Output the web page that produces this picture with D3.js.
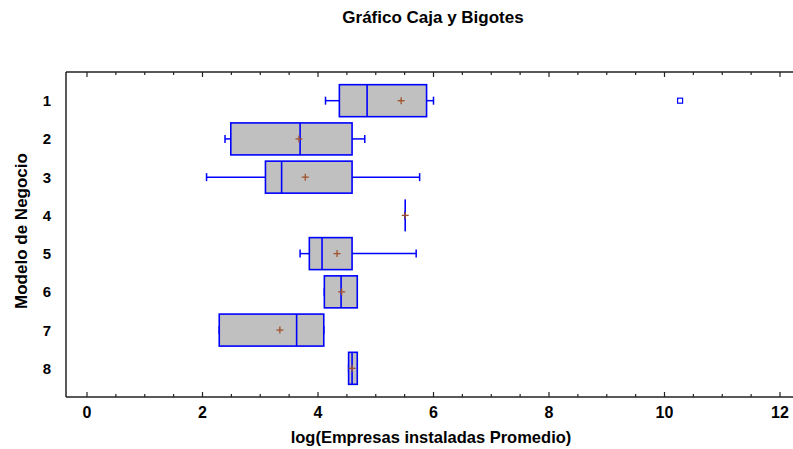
<!DOCTYPE html>
<html><head><meta charset="utf-8">
<script src="https://cdn.jsdelivr.net/npm/d3@7"></script>
<style>body{margin:0;background:#fff}svg{display:block;font-family:"Liberation Sans",Arial,sans-serif}</style>
</head><body><svg id="c" width="793" height="449"></svg>
<script>
const categories = ["1","2","3","4","5","6","7","8"];
const whiskerLow  = [4.13, 2.39, 2.07, 5.51, 3.69, 4.11, 2.29, 4.53];
const q1          = [4.37, 2.49, 3.09, 5.51, 3.85, 4.11, 2.29, 4.53];
const median      = [4.85, 3.69, 3.37, 5.51, 4.07, 4.40, 3.63, 4.59];
const q3          = [5.88, 4.59, 4.59, 5.51, 4.59, 4.68, 4.10, 4.68];
const whiskerHigh = [6.00, 4.81, 5.76, 5.51, 5.70, 4.68, 4.10, 4.68];
const mean        = [5.44, 3.67, 3.78, 5.51, 4.33, 4.41, 3.34, 4.59];
const outliers    = [{cat:"1", value:10.27}];
const xTicks = [0,2,4,6,8,10,12];

const svg = d3.select("#c");
const L=66, R=793, T=72, B=397;
const x = d3.scaleLinear().domain([0,12]).range([87,780]);
const y = d3.scalePoint().domain(categories).range([T,B]).padding(0.75);
const boxH = 32, capH = 8;
const blue = "#0000ff", brown = "#a0522d";

// frame
svg.append("line").attr("x1",L).attr("x2",R).attr("y1",T).attr("y2",T).attr("stroke","#222").attr("stroke-width",1.5);
svg.append("line").attr("x1",L).attr("x2",R).attr("y1",B).attr("y2",B).attr("stroke","#222").attr("stroke-width",1.5);
svg.append("line").attr("x1",L).attr("x2",L).attr("y1",T).attr("y2",B).attr("stroke","#222").attr("stroke-width",1.5);

// ticks
const minor = d3.range(0,12.01,0.5);
minor.forEach(v=>{
  const major = Math.abs(v%2)<1e-9;
  const len = major?5:3;
  svg.append("line").attr("x1",x(v)).attr("x2",x(v)).attr("y1",T).attr("y2",T+len).attr("stroke","#222").attr("stroke-width",1.2);
  svg.append("line").attr("x1",x(v)).attr("x2",x(v)).attr("y1",B).attr("y2",B-len).attr("stroke","#222").attr("stroke-width",1.2);
});
svg.selectAll(".xt").data(xTicks).join("text")
  .attr("x",d=>x(d)).attr("y",417.5).attr("text-anchor","middle")
  .attr("font-size",16).attr("font-weight","bold").attr("fill","#000").text(d=>d);
svg.selectAll(".yt").data(categories).join("text")
  .attr("x",47).attr("y",d=>y(d)+5.5).attr("text-anchor","middle")
  .attr("font-size",15).attr("font-weight","bold").attr("fill","#000").text(d=>d);

// titles
svg.append("text").attr("x",433).attr("y",22.5).attr("text-anchor","middle").attr("font-size",17).attr("font-weight","bold").text("Gráfico Caja y Bigotes");
svg.append("text").attr("x",431).attr("y",443).attr("text-anchor","middle").attr("font-size",16.5).attr("font-weight","bold").text("log(Empresas instaladas Promedio)");
svg.append("text").attr("transform","translate(27,231) rotate(-90)").attr("text-anchor","middle").attr("font-size",17).attr("font-weight","bold").text("Modelo de Negocio");

// boxes
const g = svg.append("g");
categories.forEach((c,i)=>{
  const cy = y(c);
  g.append("line").attr("x1",x(whiskerLow[i])).attr("x2",x(q1[i])).attr("y1",cy).attr("y2",cy).attr("stroke",blue).attr("stroke-width",1.5);
  g.append("line").attr("x1",x(q3[i])).attr("x2",x(whiskerHigh[i])).attr("y1",cy).attr("y2",cy).attr("stroke",blue).attr("stroke-width",1.5);
  [whiskerLow[i], whiskerHigh[i]].forEach(v=>{
    g.append("line").attr("x1",x(v)).attr("x2",x(v)).attr("y1",cy-capH/2).attr("y2",cy+capH/2).attr("stroke",blue).attr("stroke-width",1.5);
  });
  g.append("rect").attr("x",x(q1[i])).attr("y",cy-boxH/2).attr("width",x(q3[i])-x(q1[i])).attr("height",boxH)
    .attr("fill","#c0c0c0").attr("stroke",blue).attr("stroke-width",1.6);
  g.append("line").attr("x1",x(median[i])).attr("x2",x(median[i])).attr("y1",cy-boxH/2).attr("y2",cy+boxH/2).attr("stroke",blue).attr("stroke-width",1.6);
  const mx = x(mean[i]);
  g.append("line").attr("x1",mx-3.5).attr("x2",mx+3.5).attr("y1",cy).attr("y2",cy).attr("stroke",brown).attr("stroke-width",1.3);
  g.append("line").attr("x1",mx).attr("x2",mx).attr("y1",cy-3.5).attr("y2",cy+3.5).attr("stroke",brown).attr("stroke-width",1.3);
});
outliers.forEach(o=>{
  g.append("rect").attr("x",x(o.value)-2.5).attr("y",y(o.cat)-2.5).attr("width",5).attr("height",5)
    .attr("fill","none").attr("stroke",blue).attr("stroke-width",1.2);
});
</script></body></html>
